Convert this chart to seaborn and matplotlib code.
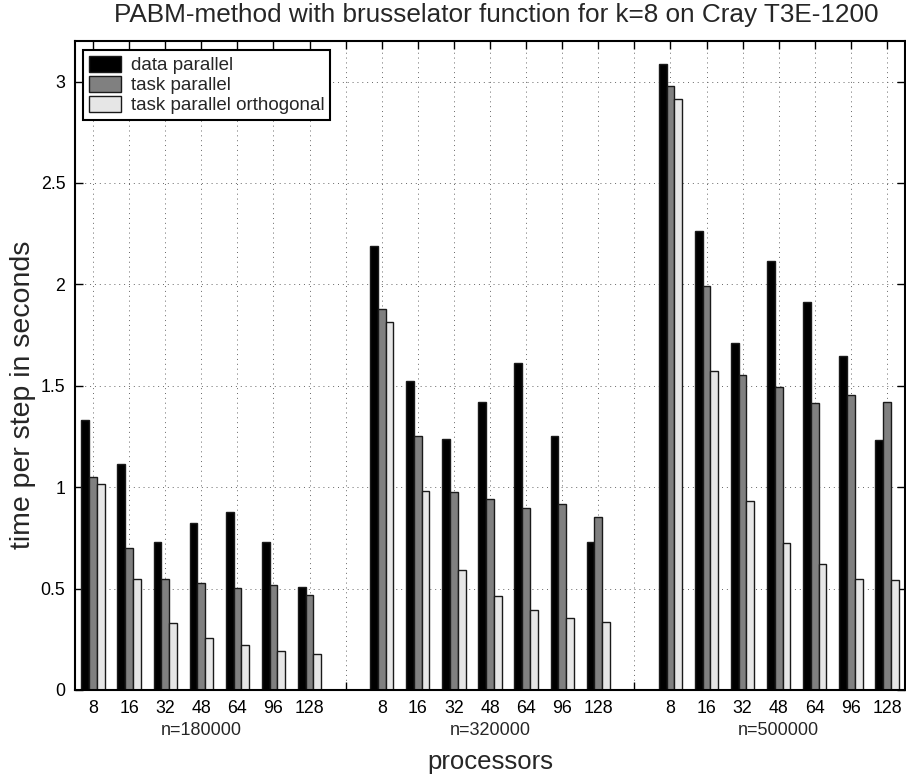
import matplotlib
matplotlib.use("Agg")
import matplotlib.pyplot as plt
import seaborn as sns
import pandas as pd
import numpy as np

# ---- data ----
groups = ["n=180000", "n=320000", "n=500000"]
processors = ["8", "16", "32", "48", "64", "96", "128"]
series = ["data parallel", "task parallel", "task parallel orthogonal"]

data_parallel = [
    [1.333, 1.112, 0.729, 0.821, 0.880, 0.729, 0.509],
    [2.188, 1.524, 1.236, 1.420, 1.614, 1.254, 0.732],
    [3.086, 2.262, 1.713, 2.113, 1.915, 1.647, 1.234],
]
task_parallel = [
    [1.051, 0.701, 0.548, 0.529, 0.502, 0.516, 0.468],
    [1.878, 1.254, 0.976, 0.942, 0.897, 0.917, 0.851],
    [2.980, 1.990, 1.555, 1.494, 1.417, 1.454, 1.421],
]
task_parallel_orth = [
    [1.015, 0.545, 0.328, 0.255, 0.223, 0.194, 0.177],
    [1.814, 0.981, 0.590, 0.464, 0.395, 0.353, 0.337],
    [2.915, 1.575, 0.933, 0.727, 0.622, 0.549, 0.542],
]
colors = ["#000000", "#808080", "#e6e6e6"]

# ---- build long table ----
rows = []
for s, vals in zip(series, [data_parallel, task_parallel, task_parallel_orth]):
    for gi, g in enumerate(groups):
        for pi, p in enumerate(processors):
            slot = gi * (len(processors) + 1) + pi + 1
            rows.append({"slot": slot, "series": s, "time": vals[gi][pi],
                         "group": g, "proc": p})
df = pd.DataFrame(rows)

sns.set_theme(style="white")
plt.rcParams["font.family"] = ["Liberation Sans", "DejaVu Sans"]

fig = plt.figure(figsize=(9.06, 7.74), dpi=100)
ax = fig.add_axes([75 / 906, 84 / 774, 830 / 906, 649 / 774])

sns.barplot(data=df, x="slot", y="time", hue="series", hue_order=series,
            palette=colors, native_scale=True, width=0.645, gap=0.0,
            errorbar=None, edgecolor="#1a1a1a", linewidth=1.0,
            saturation=1.0, legend=False, ax=ax)

nslots = len(groups) * (len(processors) + 1) - 1
ax.set_xlim(0.5, nslots + 0.5)
ax.set_ylim(0, 3.2)
ticks = list(range(1, nslots + 1))
labels = []
for t in ticks:
    k = (t - 1) % (len(processors) + 1)
    labels.append(processors[k] if k < len(processors) else "")
ax.set_xticks(ticks)
ax.set_xticklabels(labels, fontsize=12.8)
yt = np.arange(0, 3.01, 0.5)
ax.set_yticks(yt)
ax.set_yticklabels([f"{v:g}" for v in yt], fontsize=12.8)

ax.tick_params(axis="both", direction="in", length=6, width=1.0,
               top=True, right=True, bottom=True, left=True, colors="black")
ax.tick_params(axis="x", pad=7)
ax.tick_params(axis="y", pad=7)

ax.set_axisbelow(True)
ax.grid(True, color="#666666", linestyle=(0, (1, 4)), linewidth=0.7)
for sp in ax.spines.values():
    sp.set_visible(True)
    sp.set_color("black")
    sp.set_linewidth(1.5)

# group labels
for gi, g in enumerate(groups):
    xc = gi * (len(processors) + 1) + (len(processors) + 1) / 2
    ax.text(xc, -0.063, g, transform=ax.get_xaxis_transform(),
            ha="center", va="center", fontsize=13)

ax.set_xlabel("processors", fontsize=18.5)
ax.xaxis.set_label_coords(0.5, -0.111)
ax.xaxis.label.set_va("center")
ax.set_ylabel("time per step in seconds", fontsize=20.5)
ax.yaxis.set_label_coords(-0.0627, 0.4545)
ax.yaxis.label.set_va("center")

fig.text(496 / 906, 1 - 15 / 774,
         "PABM-method with brusselator function for k=8 on Cray T3E-1200",
         ha="center", va="center", fontsize=18.8)

leg = ax.legend(ax.containers, series, loc="upper left",
                bbox_to_anchor=(8 / 830, 1 - 9 / 649), borderaxespad=0,
                fontsize=13.5, labelspacing=0.08, handlelength=1.75,
                handleheight=0.95, handletextpad=0.5, borderpad=0.3,
                fancybox=False, framealpha=1, edgecolor="black")
leg.get_frame().set_linewidth(1.5)

fig.savefig("out.png", dpi=100)
